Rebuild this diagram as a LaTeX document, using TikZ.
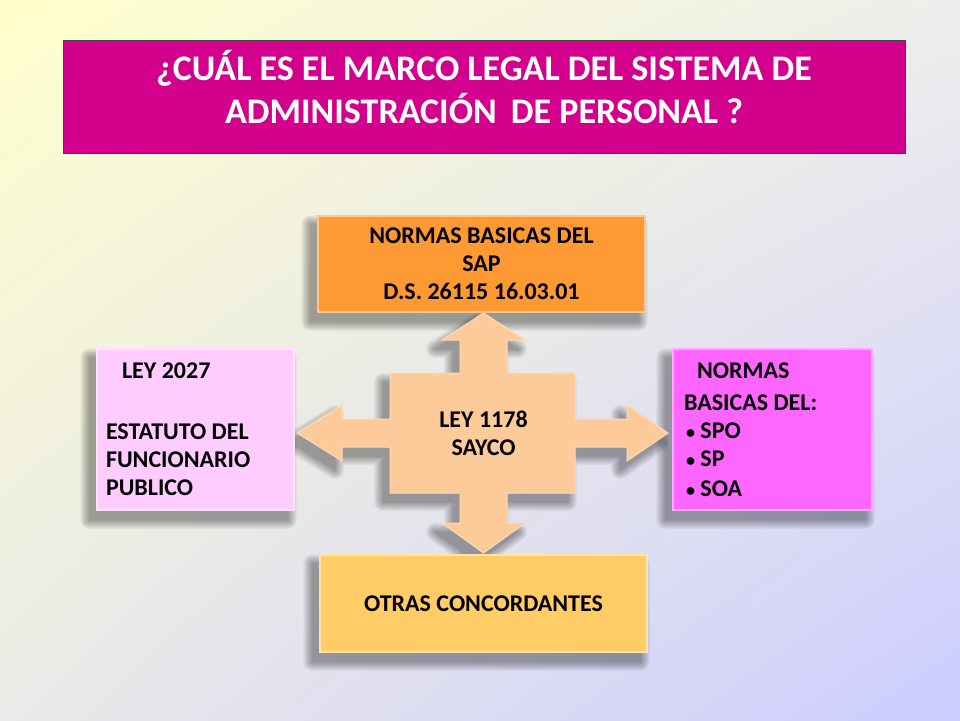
\documentclass[tikz,border=0pt]{standalone}
\usepackage{fontspec}
\setmainfont{Carlito}
\usetikzlibrary{shadings,calc}
\pgfdeclarelayer{bgshade}
\pgfdeclarelayer{shadow}
\pgfsetlayers{bgshade,shadow,main}
\definecolor{bgA}{RGB}{255,255,204}
\definecolor{bgB}{RGB}{238,238,236}
\definecolor{bgC}{RGB}{234,234,232}
\definecolor{bgD}{RGB}{204,204,255}
\definecolor{titlefill}{RGB}{210,0,140}
\definecolor{topfill}{RGB}{255,153,51}
\definecolor{leftfill}{RGB}{255,204,255}
\definecolor{rightfill}{RGB}{255,102,255}
\definecolor{botfill}{RGB}{255,204,102}
\definecolor{arrowfill}{RGB}{253,203,153}
\newcommand{\smbul}{{\fontsize{18}{18}\selectfont •}}
% soft shadow: stacked, growing, translucent copies of a path
\newcommand{\softshadowof}[1]{%
  \begin{pgfonlayer}{shadow}
  \foreach \rr in {0,1,...,9}{
    \begin{scope}[transparency group, opacity=0.04]
      \filldraw[black, line width=2*\rr pt, line join=round] #1;
    \end{scope}}
  \end{pgfonlayer}}
\newcommand{\boxshadow}[1]{\softshadowof{($(#1.north west)+(-7,9)$) rectangle ($(#1.south east)+(-7,9)$)}}
\tikzset{
  boxstyle/.style={rectangle, inner sep=0pt, font=\bfseries\fontsize{24}{28}\selectfont, text=black},
  bevel/.style={draw=#1!55!white, line width=1.5pt},
}
\begin{document}
\begin{tikzpicture}[x=1pt,y=-1pt]
\useasboundingbox (0,0) rectangle (960,720);
\begin{pgfonlayer}{bgshade}
\shade[upper left=bgA, upper right=bgB, lower left=bgC, lower right=bgD] (0,0) rectangle (960,720);
\end{pgfonlayer}

% title
\node[rectangle, fill=titlefill, draw=black!75, line width=0.8pt, minimum width=842pt, minimum height=113pt, inner sep=0pt] (titlebox) at (484,96.5) {};
\node[align=center, text=white, font=\bfseries\fontsize{36}{43}\selectfont, inner sep=0pt] (titletext) at (484,87.5) {¿CUÁL ES EL MARCO LEGAL DEL SISTEMA DE\\ADMINISTRACIÓN\, DE PERSONAL ?};

% central quad arrow
\coordinate (ctr) at (483.5,433);
\def\quadarrow{(483.5,313) -- (525,340) -- (507,340) -- (507,373) -- (575,373) -- (575,419) -- (627,419) -- (627,405) -- (668,433) -- (627,461) -- (627,447) -- (575,447) -- (575,493) -- (507,493) -- (507,523) -- (525,523) -- (483.5,553) -- (442,523) -- (460,523) -- (460,493) -- (390,493) -- (390,447) -- (342,447) -- (342,461) -- (297,433) -- (342,405) -- (342,419) -- (390,419) -- (390,373) -- (460,373) -- (460,340) -- (442,340) -- cycle}
\begin{scope}[shift={(-7,9)}]
\softshadowof{\quadarrow}
\end{scope}
\filldraw[fill=arrowfill, draw=arrowfill!70!white, line width=1pt] \quadarrow;
\node[align=center, font=\bfseries\fontsize{24}{28}\selectfont, inner sep=0pt] (center) at (ctr) {LEY 1178\\SAYCO};

% top box
\node[boxstyle, fill=topfill, bevel=topfill, minimum width=327pt, minimum height=96pt, align=center] (top) at (481.5,264) {NORMAS BASICAS DEL\\SAP\\D.S. 26115 16.03.01};

% bottom box
\node[boxstyle, fill=botfill, bevel=botfill, minimum width=327pt, minimum height=97pt, align=center] (bottom) at (483.5,603.5) {OTRAS CONCORDANTES};

% left box
\node[boxstyle, fill=leftfill, bevel=leftfill, minimum width=197pt, minimum height=161pt, text width=179pt, align=left] (left) at (195.5,429.5) {\spaceskip=0pt\xspaceskip=0pt\hspace*{16pt}LEY 2027\\[33pt]ESTATUTO DEL\\FUNCIONARIO\\PUBLICO};

% right box
\node[boxstyle, fill=rightfill, bevel=rightfill, minimum width=199pt, minimum height=161pt, text width=177pt, align=left] (right) at (772.5,429.5) {\spaceskip=0pt\xspaceskip=0pt\hspace*{13pt}NORMAS\\[4pt]BASICAS DEL:\\\hspace*{2pt}\smbul\ SPO\\\hspace*{2pt}\smbul\ SP\\[2pt]\hspace*{2pt}\smbul\ SOA};

\boxshadow{top}
\boxshadow{bottom}
\boxshadow{left}
\boxshadow{right}
\end{tikzpicture}
\end{document}
